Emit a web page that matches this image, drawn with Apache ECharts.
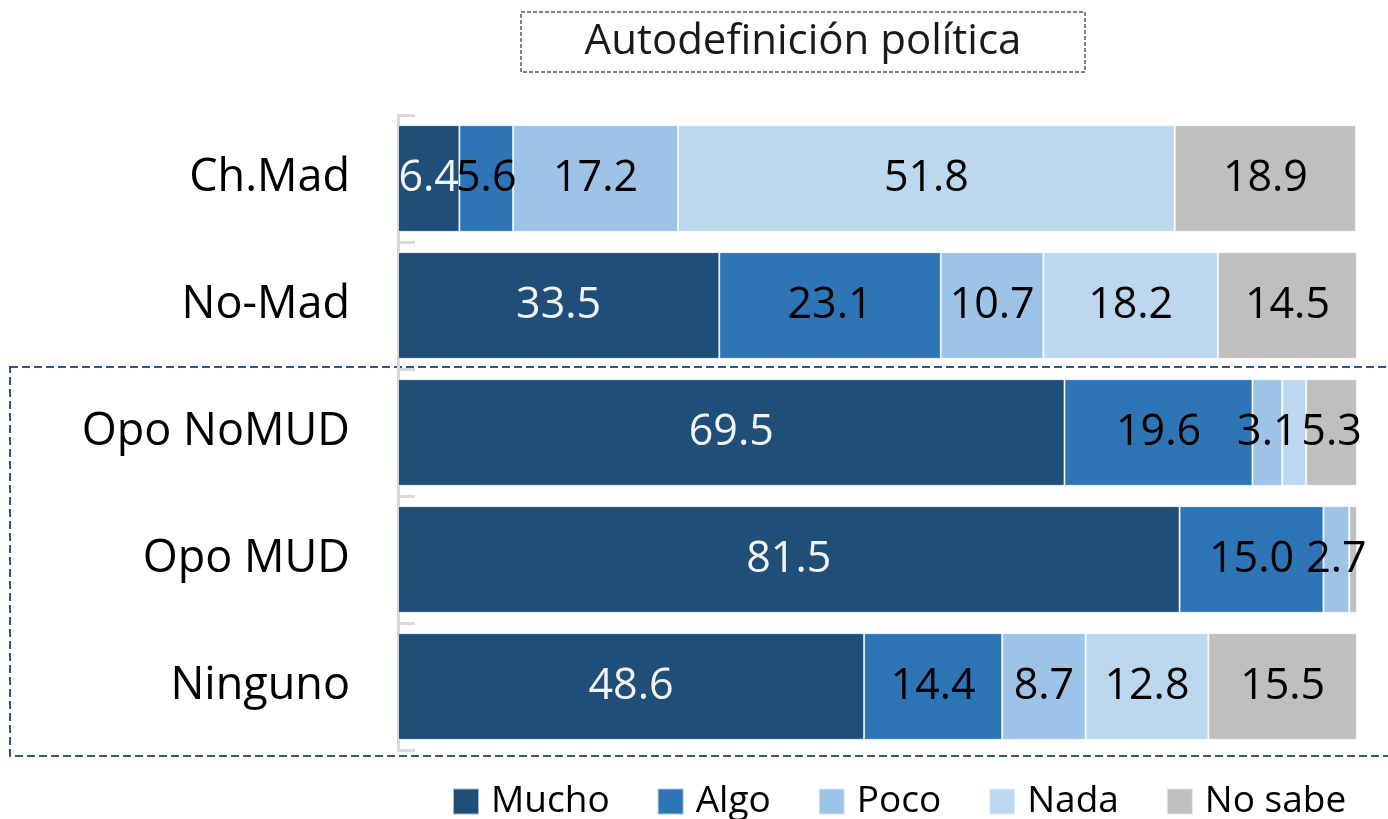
<!DOCTYPE html>
<html>
<head>
<meta charset="utf-8">
<script src="https://cdn.jsdelivr.net/npm/echarts@6/dist/echarts.min.js"></script>
<style>
  html, body {margin: 0; padding: 0; background: #fff;}
  #chart {width: 1388px; height: 819px;}
</style>
</head>
<body>
<div id="chart"></div>
<script>
const categories = ["Ch.Mad", "No-Mad", "Opo NoMUD", "Opo MUD", "Ninguno"];
const seriesNames = ["Mucho", "Algo", "Poco", "Nada", "No sabe"];
const mucho = [6.4, 33.5, 69.5, 81.5, 48.6];
const algo = [5.6, 23.1, 19.6, 15.0, 14.4];
const poco = [17.2, 10.7, 3.1, 2.7, 8.7];
const nada = [51.8, 18.2, 2.5, 0, 12.8];
const noSabe = [18.9, 14.5, 5.3, 0.8, 15.5];
const titleText = "Autodefinición política";

const colors = ["#1f4e79", "#2e75b6", "#9dc3e6", "#bdd7ee", "#bfbfbf"];
const values = [mucho, algo, poco, nada, noSabe];
const font = "Open Sans";

const myChart = echarts.init(document.getElementById("chart"));
myChart.setOption({
    animation: false,
    textStyle: {fontFamily: font},
    grid: {left: 398, right: 31, top: 115, bottom: 69},
    xAxis: {
        type: "value",
        min: 0,
        max: 100,
        show: false
    },
    yAxis: {
        type: "category",
        inverse: true,
        data: categories,
        axisLine: {
            show: true,
            lineStyle: {color: "#d9d9d9", width: 3}
        },
        axisTick: {
            show: true,
            inside: true,
            length: 17,
            lineStyle: {color: "#d9d9d9", width: 3}
        },
        axisLabel: {
            fontSize: 45,
            color: "#000",
            margin: 48
        }
    },
    legend: {
        left: 447,
        top: 778,
        itemWidth: 26,
        itemHeight: 26,
        itemGap: 47,
        icon: "rect",
        textStyle: {fontSize: 37, color: "#000", padding: [0, 0, 0, 7]},
        data: seriesNames
    },
    graphic: [
        {
            type: "rect",
            shape: {x: 521, y: 12, width: 564, height: 60},
            style: {fill: "none", stroke: "#595959", lineWidth: 1.5, lineDash: [4, 2]}
        },
        {
            type: "text",
            x: 803,
            y: 42,
            style: {
                text: titleText,
                font: "42px 'Open Sans'",
                fill: "#1a1a1a",
                textAlign: "center",
                textVerticalAlign: "middle"
            }
        },
        {
            type: "rect",
            shape: {x: 10, y: 367, width: 1390, height: 389},
            style: {fill: "none", stroke: "#2f5597", lineWidth: 2, lineDash: [8, 4]}
        }
    ],
    series: seriesNames.map((name, i) => ({
        name: name,
        type: "bar",
        stack: "total",
        barCategoryGap: "16%",
        color: colors[i],
        itemStyle: {borderColor: "rgba(255,255,255,0.6)", borderWidth: 1},
        label: {
            show: true,
            position: "inside",
            fontSize: 43,
            color: i === 0 ? "#f2f2f2" : "#000",
            formatter: p => p.value.toFixed(1)
        },
        data: values[i].map(v => ({value: v, label: {show: v >= 2.7}}))
    }))
});
</script>
</body>
</html>
